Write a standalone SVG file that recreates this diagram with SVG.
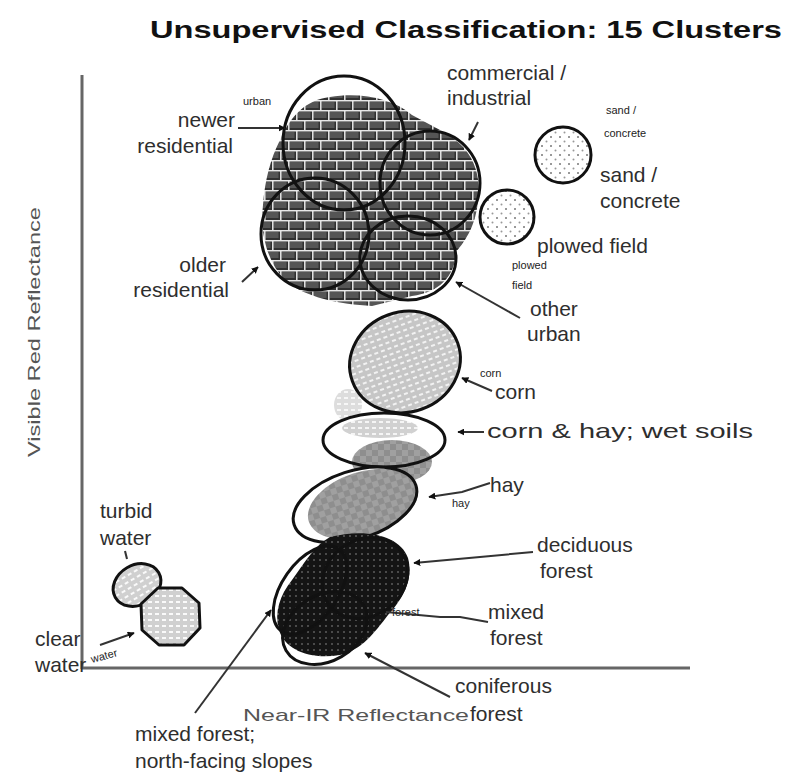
<svg xmlns="http://www.w3.org/2000/svg" width="788" height="779" viewBox="0 0 788 779">
<style>
text{font-family:"Liberation Sans",Arial,sans-serif;fill:#2e2e2e}
.lb{font-size:21px}
.sm{font-size:11px;fill:#222}
.ax{font-size:17px;fill:#555}
.ol{fill:none;stroke:#111;stroke-width:3}
.cn{fill:none;stroke:#333;stroke-width:2}
.ar{marker-end:url(#ah)}
</style>
<defs>
<marker id="ah" viewBox="0 0 10 10" refX="9" refY="5" markerWidth="7" markerHeight="7" orient="auto" markerUnits="userSpaceOnUse">
<path d="M0,0 L10,5 L0,10 z" fill="#111"/>
</marker>
<pattern id="brick" width="16" height="20" patternUnits="userSpaceOnUse">
<rect width="16" height="20" fill="#303030"/>
<rect x="1.5" y="2" width="13" height="6" fill="#555"/>
<rect x="-6.5" y="12" width="13" height="6" fill="#555"/>
<rect x="9.5" y="12" width="13" height="6" fill="#555"/>
<path d="M0,0.8 H16 M0,10.8 H16 M0.8,0 V10 M8.8,10 V20" stroke="#e8e8e8" stroke-width="1.5"/>
</pattern>
<pattern id="sand" width="9" height="9" patternUnits="userSpaceOnUse">
<rect width="9" height="9" fill="#fff"/>
<circle cx="2" cy="2" r="1" fill="#777"/>
<circle cx="6.5" cy="6.5" r="1" fill="#999"/>
</pattern>
<pattern id="corn" width="7" height="6" patternUnits="userSpaceOnUse">
<rect width="7" height="6" fill="#c6c6c6"/>
<rect x="1" y="1" width="4" height="2" fill="#f2f2f2"/>
</pattern>
<pattern id="hay" width="12" height="12" patternUnits="userSpaceOnUse">
<rect width="12" height="12" fill="#8e8e8e"/>
<rect width="6" height="6" fill="#a0a0a0"/>
<rect x="6" y="6" width="6" height="6" fill="#a0a0a0"/>
</pattern>
<pattern id="forest" width="6" height="6" patternUnits="userSpaceOnUse">
<rect width="6" height="6" fill="#141414"/>
<rect x="1" y="1" width="2" height="2" fill="#4a4a4a"/>
</pattern>
<pattern id="water" width="7" height="6" patternUnits="userSpaceOnUse">
<rect width="7" height="6" fill="#d0d0d0"/>
<rect x="1" y="1" width="4" height="2" fill="#fafafa"/>
</pattern>
</defs>
<rect width="788" height="779" fill="#fff"/>

<text x="150" y="38" font-size="23" font-weight="bold" textLength="632" lengthAdjust="spacingAndGlyphs" style="fill:#111">Unsupervised Classification:  15 Clusters</text>

<g id="axes">
<line x1="82" y1="75" x2="82" y2="669" stroke="#666" stroke-width="3"/>
<line x1="81" y1="668" x2="690" y2="668" stroke="#666" stroke-width="3"/>
<text class="ax" transform="translate(40,457) rotate(-90)" textLength="250" lengthAdjust="spacingAndGlyphs" font-size="15">Visible Red Reflectance</text>
<text class="ax" x="243" y="721" textLength="226" lengthAdjust="spacingAndGlyphs">Near-IR Reflectance</text>
</g>

<g id="urban-cluster">
<path d="M330,97 C360,92 392,98 412,115 L440,130 C470,145 482,170 478,200 C476,225 466,240 456,252 C455,276 440,292 412,296 L372,306 C340,304 305,298 285,280 C266,261 260,230 263,205 C265,180 270,160 280,140 C290,117 305,100 330,97 Z" fill="url(#brick)"/>
<ellipse class="ol" cx="344" cy="143" rx="61" ry="67"/>
<ellipse class="ol" cx="430" cy="183" rx="50" ry="52"/>
<ellipse class="ol" cx="315" cy="234" rx="54" ry="56"/>
<ellipse class="ol" cx="408" cy="258" rx="48" ry="42"/>
</g>

<g id="sand-concrete">
<circle cx="563" cy="155" r="28" fill="url(#sand)" stroke="#111" stroke-width="3"/>
</g>
<g id="plowed-field">
<circle cx="507" cy="217" r="27" fill="url(#sand)" stroke="#111" stroke-width="3"/>
</g>

<g id="corn">
<ellipse cx="348" cy="405" rx="14" ry="16" fill="url(#corn)" opacity="0.6"/>
<ellipse cx="405" cy="362" rx="56" ry="50" transform="rotate(-20 405 362)" fill="url(#corn)" stroke="#111" stroke-width="3"/>
</g>

<g id="corn-hay-wet-soils">
<ellipse cx="384" cy="440" rx="61" ry="27" fill="#fff"/>
<ellipse cx="380" cy="428" rx="38" ry="10" fill="url(#corn)" opacity="0.8"/>
<ellipse cx="392" cy="462" rx="40" ry="22" fill="url(#hay)"/>
<ellipse class="ol" cx="384" cy="440" rx="61" ry="27"/>
</g>

<g id="hay">
<ellipse cx="355" cy="505" rx="64" ry="34" transform="rotate(-18 355 505)" fill="#fff"/>
<ellipse cx="363" cy="504" rx="57" ry="32" transform="rotate(-18 363 504)" fill="url(#hay)"/>
<ellipse class="ol" cx="355" cy="505" rx="64" ry="34" transform="rotate(-18 355 505)"/>
</g>

<g id="forest">
<ellipse cx="310" cy="590" rx="50" ry="28" transform="rotate(-55 310 590)" fill="#fff"/>
<ellipse cx="325" cy="628" rx="45" ry="33" transform="rotate(-30 325 628)" fill="#fff"/>
<path d="M330,537 C365,528 400,535 408,558 C414,580 402,600 388,615 C375,632 362,650 340,655 C310,660 285,650 279,630 C274,612 280,595 292,580 C305,562 315,545 330,537 Z" fill="url(#forest)"/>
<ellipse class="ol" cx="310" cy="590" rx="50" ry="28" transform="rotate(-55 310 590)"/>
<ellipse class="ol" cx="365" cy="578" rx="45" ry="38" transform="rotate(-35 365 578)"/>
<ellipse class="ol" cx="325" cy="628" rx="45" ry="33" transform="rotate(-30 325 628)"/>
</g>

<g id="turbid-water">
<ellipse cx="137" cy="585" rx="25" ry="20" transform="rotate(-30 137 585)" fill="url(#water)" stroke="#111" stroke-width="3"/>
</g>
<g id="clear-water">
<polygon points="158,588 182,588 199,603 200,628 184,645 159,645 142,630 141,604" fill="url(#water)" stroke="#111" stroke-width="3" stroke-linejoin="round"/>
</g>

<g id="connectors">
<line class="cn ar" x1="238" y1="128" x2="285" y2="128"/>
<line class="cn ar" x1="242" y1="282" x2="258" y2="267"/>
<line class="cn ar" x1="478" y1="122" x2="469" y2="140"/>
<line class="cn ar" x1="520" y1="318" x2="456" y2="282"/>
<line class="cn ar" x1="492" y1="391" x2="462" y2="378"/>
<line class="cn ar" x1="484" y1="432" x2="458" y2="432"/>
<polyline class="cn ar" points="490,483 462,492 429,497"/>
<polyline class="cn ar" points="533,552 480,557 414,563"/>
<polyline class="cn" points="386,612 440,617 460,617 488,622"/>
<line class="cn ar" x1="450" y1="697" x2="365" y2="653"/>
<line class="cn ar" x1="195" y1="713" x2="271" y2="610"/>
<line class="cn ar" x1="100" y1="645" x2="134" y2="633"/>
<line class="cn" x1="125" y1="551" x2="127" y2="559"/>
</g>

<g id="labels">
<text class="lb" x="447" y="80">commercial /</text>
<text class="lb" x="447" y="105">industrial</text>
<text class="sm" x="243" y="105">urban</text>
<text class="lb" x="235" y="127" text-anchor="end">newer</text>
<text class="lb" x="233" y="153" text-anchor="end">residential</text>
<text class="lb" x="226" y="272" text-anchor="end">older</text>
<text class="lb" x="229" y="297" text-anchor="end">residential</text>
<text class="sm" x="606" y="114">sand /</text>
<text class="sm" x="604" y="137">concrete</text>
<text class="lb" x="600" y="182">sand /</text>
<text class="lb" x="600" y="208">concrete</text>
<text class="lb" x="537" y="253">plowed field</text>
<text class="sm" x="512" y="269">plowed</text>
<text class="sm" x="512" y="289">field</text>
<text class="lb" x="530" y="316">other</text>
<text class="lb" x="527" y="341">urban</text>
<text class="sm" x="480" y="377">corn</text>
<text class="lb" x="495" y="399">corn</text>
<text class="lb" x="487" y="438" textLength="266" lengthAdjust="spacingAndGlyphs">corn &amp; hay; wet soils</text>
<text class="lb" x="490" y="492">hay</text>
<text class="sm" x="452" y="507">hay</text>
<text class="lb" x="537" y="552">deciduous</text>
<text class="lb" x="540" y="578">forest</text>
<text class="sm" x="392" y="616">forest</text>
<text class="lb" x="488" y="619">mixed</text>
<text class="lb" x="490" y="645">forest</text>
<text class="lb" x="455" y="693">coniferous</text>
<text class="lb" x="470" y="721">forest</text>
<text class="lb" x="100" y="518">turbid</text>
<text class="lb" x="100" y="545">water</text>
<text class="lb" x="35" y="646">clear</text>
<text class="lb" x="35" y="672">water</text>
<text class="sm" x="92" y="663" transform="rotate(-15 92 663)">water</text>
<text class="lb" x="135" y="741">mixed forest;</text>
<text class="lb" x="135" y="768">north-facing slopes</text>
</g>
</svg>
